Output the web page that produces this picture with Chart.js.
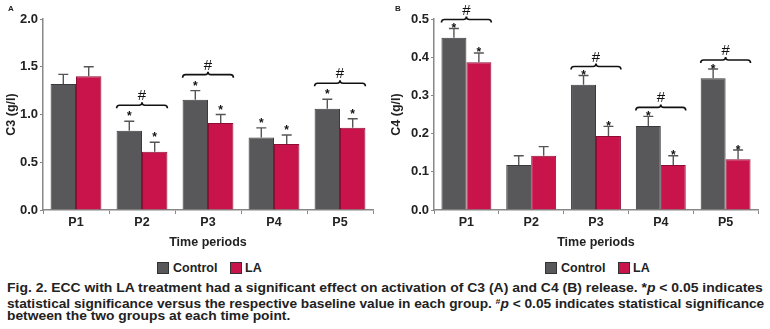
<!DOCTYPE html>
<html>
<head>
<meta charset="utf-8">
<script src="https://cdn.jsdelivr.net/npm/chart.js@4.4.1/dist/chart.umd.min.js"></script>
<style>
  body { margin: 0; background: #fff; font-family: 'Liberation Sans', Arial, sans-serif; }
  #wrap { position: relative; width: 770px; height: 329px; overflow: hidden; }
  canvas { position: absolute; top: 0; }
  .panel { position: absolute; font-size: 8px; font-weight: bold; color: #222; }
  .lg { position: absolute; top: 261px; font-size: 12.5px; font-weight: bold; color: #222; line-height: 14px; }
  .sw { position: absolute; top: 262px; width: 12px; height: 12px; box-sizing: border-box; border: 1px solid #333; }
  .cap { position: absolute; left: 7px; font-size: 12.5px; font-weight: bold; color: #222; white-space: nowrap; transform-origin: 0 50%; line-height: 14px; }
  .cap sup { font-size: 8px; vertical-align: 4px; }
</style>
</head>
<body>
<div id="wrap">
  <canvas id="chartA" width="385" height="254" style="left:0"></canvas>
  <canvas id="chartB" width="385" height="254" style="left:385px"></canvas>
  <div class="panel" style="left:8px;top:4px">A</div>
  <div class="panel" style="left:395px;top:4px">B</div>

  <div class="sw" style="left:157px;background:#58585b"></div>
  <div class="lg" style="left:173px">Control</div>
  <div class="sw" style="left:230px;background:#c8144b"></div>
  <div class="lg" style="left:245px">LA</div>

  <div class="sw" style="left:545px;background:#58585b"></div>
  <div class="lg" style="left:561px">Control</div>
  <div class="sw" style="left:618px;background:#c8144b"></div>
  <div class="lg" style="left:633px">LA</div>

  <div class="cap" id="cap1" style="top:281px">Fig. 2. ECC with LA treatment had a significant effect on activation of C3 (A) and C4 (B) release. *<i>p</i> &lt; 0.05 indicates</div>
  <div class="cap" id="cap2" style="top:295px">statistical significance versus the respective baseline value in each group. <sup>#</sup><i>p</i> &lt; 0.05 indicates statistical significance</div>
  <div class="cap" id="cap3" style="top:309px">between the two groups at each time point.</div>
</div>
<script>
const periods = ['P1', 'P2', 'P3', 'P4', 'P5'];

// C3 (panel A)
const c3Control = [1.32, 0.83, 1.155, 0.76, 1.06];
const c3ControlErr = [0.10, 0.10, 0.095, 0.10, 0.10];
const c3LA = [1.40, 0.61, 0.91, 0.69, 0.86];
const c3LAErr = [0.10, 0.10, 0.09, 0.095, 0.095];
const c3StarControl = [0, 1, 1, 1, 1];
const c3StarLA = [0, 1, 1, 1, 1];
const c3Between = [0, 1, 1, 0, 1];

// C4 (panel B)
const c4Control = [0.451, 0.118, 0.328, 0.220, 0.345];
const c4ControlErr = [0.024, 0.024, 0.024, 0.025, 0.024];
const c4LA = [0.387, 0.142, 0.194, 0.118, 0.133];
const c4LAErr = [0.024, 0.024, 0.025, 0.024, 0.024];
const c4StarControl = [1, 0, 1, 1, 1];
const c4StarLA = [1, 0, 1, 1, 1];
const c4Between = [1, 0, 1, 1, 1];

const FONT = "'Liberation Sans', Arial, sans-serif";
Chart.defaults.font.family = FONT;
Chart.defaults.color = '#222';

function brace(ctx, x0, x1, y) {
  const xm = (x0 + x1) / 2, h = 3;
  ctx.beginPath();
  ctx.moveTo(x0, y + h);
  ctx.quadraticCurveTo(x0, y, x0 + h, y);
  ctx.lineTo(xm - h, y);
  ctx.quadraticCurveTo(xm, y, xm, y - h);
  ctx.quadraticCurveTo(xm, y, xm + h, y);
  ctx.lineTo(x1 - h, y);
  ctx.quadraticCurveTo(x1, y, x1, y + h);
  ctx.stroke();
}

const marks = {
  id: 'marks',
  afterDatasetsDraw(chart) {
    const m = chart.options.plugins.marks;
    const ctx = chart.ctx;
    const ys = chart.scales.y;
    const tops = [[], []];
    ctx.save();
    [0, 1].forEach(di => {
      const meta = chart.getDatasetMeta(di);
      meta.data.forEach((bar, i) => {
        const top = ys.getPixelForValue(m.values[di][i] + m.errs[di][i]);
        tops[di][i] = top;
        ctx.strokeStyle = '#555';
        ctx.lineWidth = 1.4;
        ctx.beginPath();
        ctx.moveTo(bar.x, bar.y);
        ctx.lineTo(bar.x, top);
        ctx.moveTo(bar.x - 5, top);
        ctx.lineTo(bar.x + 5, top);
        ctx.stroke();
        if (m.stars[di][i]) {
          ctx.fillStyle = '#111';
          ctx.font = 'bold 12px ' + FONT;
          ctx.textAlign = 'center';
          ctx.textBaseline = 'alphabetic';
          ctx.fillText('*', bar.x, top + m.starOff);
        }
      });
    });
    const m0 = chart.getDatasetMeta(0), m1 = chart.getDatasetMeta(1);
    m.between.forEach((b, i) => {
      if (!b) return;
      const x0 = m0.data[i].x - m0.data[i].width / 2;
      const x1 = m1.data[i].x + m1.data[i].width / 2;
      const y = Math.min(tops[0][i], tops[1][i]) - m.braceOff;
      ctx.strokeStyle = '#111';
      ctx.lineWidth = 1.6;
      brace(ctx, x0, x1, y);
      ctx.fillStyle = '#111';
      ctx.font = '15px ' + FONT;
      ctx.textAlign = 'center';
      ctx.textBaseline = 'alphabetic';
      ctx.fillText('#', (x0 + x1) / 2, y - 5);
    });
    ctx.restore();
  }
};

function makeChart(id, cfg) {
  return new Chart(document.getElementById(id), {
    type: 'bar',
    data: {
      labels: periods,
      datasets: [
        { label: 'Control', data: cfg.control, backgroundColor: '#58585b', borderColor: '#3a3a3c', borderWidth: 1 },
        { label: 'LA', data: cfg.la, backgroundColor: '#c8144b', borderColor: '#8c0e34', borderWidth: 1 }
      ]
    },
    options: {
      responsive: false,
      animation: false,
      datasets: { bar: { categoryPercentage: 0.77, barPercentage: 1.0 } },
      layout: { padding: { left: 0, right: 12, top: 19, bottom: 0 } },
      scales: {
        x: {
          grid: { display: true, drawOnChartArea: false, tickLength: 4, color: '#888', offset: true },
          border: { color: '#888', width: 1.5 },
          ticks: { font: { size: 12.5, weight: 'bold' }, padding: 1, color: '#222' },
          title: { display: true, text: 'Time periods', font: { size: 12.5, weight: 'bold' }, padding: 4, color: '#222' },
          afterFit: s => { s.height = 44; }
        },
        y: {
          min: 0,
          max: cfg.yMax,
          grid: { display: true, drawOnChartArea: false, tickLength: 3, color: '#888' },
          border: { color: '#888', width: 1.5 },
          ticks: { stepSize: cfg.step, font: { size: 13, weight: 'bold' }, padding: 2, color: '#222',
                   callback: v => Number(v).toFixed(1) },
          title: { display: true, text: cfg.yTitle, font: { size: 12.5, weight: 'bold' }, padding: 4, color: '#222' },
          afterFit: s => { s.width = cfg.yWidth; }
        }
      },
      plugins: {
        legend: { display: false },
        tooltip: { enabled: false },
        marks: {
          values: [cfg.control, cfg.la],
          errs: [cfg.controlErr, cfg.laErr],
          stars: [cfg.starControl, cfg.starLA],
          between: cfg.between,
          starOff: cfg.starOff,
          braceOff: cfg.braceOff
        }
      }
    },
    plugins: [marks]
  });
}

makeChart('chartA', {
  control: c3Control, controlErr: c3ControlErr, la: c3LA, laErr: c3LAErr,
  starControl: c3StarControl, starLA: c3StarLA, between: c3Between,
  yMax: 2, step: 0.5, yTitle: 'C3 (g/l)', yWidth: 43, starOff: -1, braceOff: 16
});
makeChart('chartB', {
  control: c4Control, controlErr: c4ControlErr, la: c4LA, laErr: c4LAErr,
  starControl: c4StarControl, starLA: c4StarLA, between: c4Between,
  yMax: 0.5, step: 0.1, yTitle: 'C4 (g/l)', yWidth: 49, starOff: 3.5, braceOff: 9
});

// squeeze caption lines to the condensed width of the original
function fit(id, w) {
  const el = document.getElementById(id);
  const k = w / el.scrollWidth;
  el.style.transform = 'scaleX(' + k + ')';
  return k;
}
const k1 = fit('cap1', 756);
const k2 = fit('cap2', 757);
document.getElementById('cap3').style.transform = 'scaleX(' + ((k1 + k2) / 2) + ')';
</script>
</body>
</html>
